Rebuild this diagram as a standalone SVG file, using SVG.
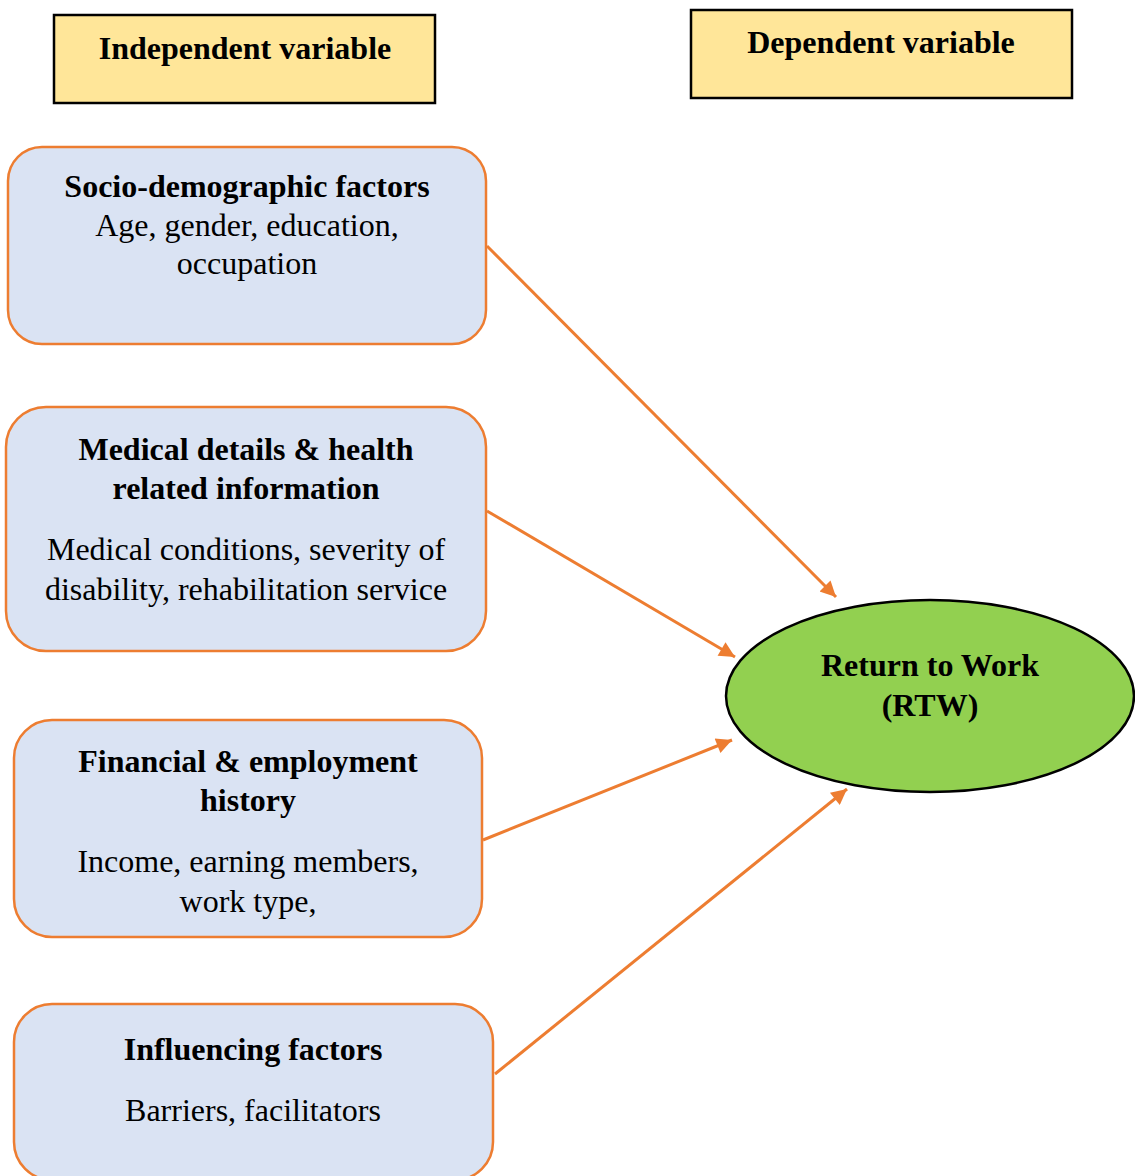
<svg xmlns="http://www.w3.org/2000/svg" width="1135" height="1176" viewBox="0 0 1135 1176">
  <defs>
    <marker id="arrow" viewBox="0 0 10 10" refX="10" refY="5" markerWidth="6.5" markerHeight="5.2" markerUnits="strokeWidth" orient="auto">
      <path d="M0,0 L10,5 L0,10 z" fill="#ED7D31"/>
    </marker>
  </defs>
  <style>
    text { font-family: "Liberation Serif", "Times New Roman", serif; fill: #000; text-anchor: middle; }
    .hdr { fill: #FFE699; stroke: #000; stroke-width: 2.5; }
    .box { fill: #DAE3F3; stroke: #ED7D31; stroke-width: 2.5; }
    .goal { fill: #92D050; stroke: #000; stroke-width: 2.5; }
    .b { font-weight: bold; font-size: 32px; }
    .r { font-size: 32px; }
    .conn { stroke: #ED7D31; stroke-width: 3; fill: none; marker-end: url(#arrow); }
  </style>

  <!-- column headers -->
  <g id="independent-header">
    <rect class="hdr" x="54" y="15" width="381" height="88"/>
    <text class="b" x="245" y="59">Independent variable</text>
  </g>
  <g id="dependent-header">
    <rect class="hdr" x="691" y="10" width="381" height="88"/>
    <text class="b" x="881" y="53">Dependent variable</text>
  </g>

  <!-- factor boxes -->
  <g id="socio-demographic">
    <rect class="box" x="8" y="147" width="478" height="197" rx="34"/>
    <text class="b" x="247" y="197">Socio-demographic factors</text>
    <text class="r" x="247" y="236">Age, gender, education,</text>
    <text class="r" x="247" y="274">occupation</text>
  </g>
  <g id="medical">
    <rect class="box" x="6" y="407" width="480" height="244" rx="40"/>
    <text class="b" x="246" y="460">Medical details &amp; health</text>
    <text class="b" x="246" y="499">related information</text>
    <text class="r" x="246" y="560">Medical conditions, severity of</text>
    <text class="r" x="246" y="600">disability, rehabilitation service</text>
  </g>
  <g id="financial">
    <rect class="box" x="14" y="720" width="468" height="217" rx="38"/>
    <text class="b" x="248" y="772">Financial &amp; employment</text>
    <text class="b" x="248" y="811">history</text>
    <text class="r" x="248" y="872">Income, earning members,</text>
    <text class="r" x="248" y="912">work type,</text>
  </g>
  <g id="influencing">
    <rect class="box" x="14" y="1004" width="479" height="176" rx="38"/>
    <text class="b" x="253" y="1060">Influencing factors</text>
    <text class="r" x="253" y="1121">Barriers, facilitators</text>
  </g>

  <!-- outcome -->
  <g id="rtw">
    <ellipse class="goal" cx="930" cy="696" rx="204" ry="96"/>
    <text class="b" x="930" y="676">Return to Work</text>
    <text class="b" x="930" y="716">(RTW)</text>
  </g>

  <!-- connectors -->
  <g id="connectors">
    <line class="conn" x1="487" y1="246" x2="836" y2="597"/>
    <line class="conn" x1="487" y1="511" x2="735" y2="657"/>
    <line class="conn" x1="483" y1="840" x2="732" y2="740"/>
    <line class="conn" x1="495" y1="1074" x2="847" y2="789"/>
  </g>
</svg>
